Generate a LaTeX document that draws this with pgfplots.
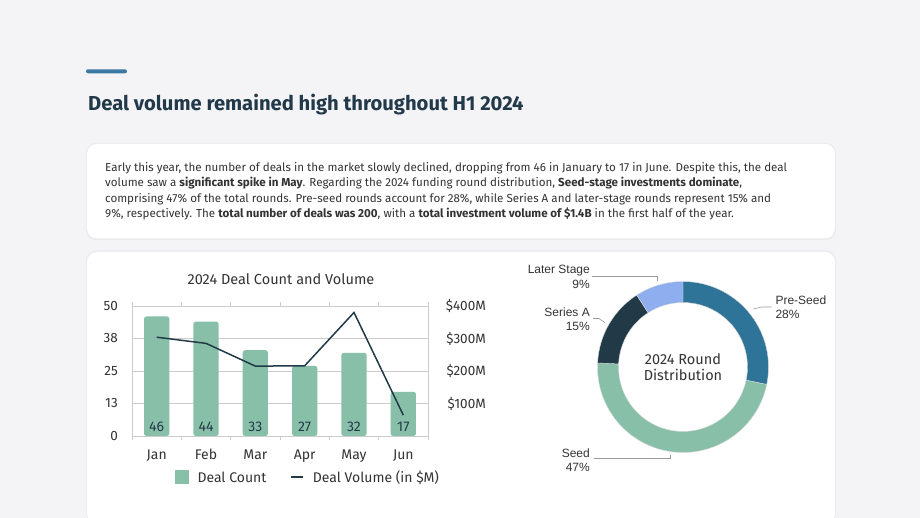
\documentclass[border=0pt]{standalone}
\usepackage{pgfplots}
\pgfplotsset{compat=1.18}
\usepackage{pgfplotstable}
\usepackage{fontspec}
\setmainfont{Fira Sans}
\newfontfamily\labelfont{Liberation Sans}

\definecolor{pagebg}{HTML}{F4F4F6}
\definecolor{accent}{HTML}{3B78A3}
\definecolor{titleink}{HTML}{22394A}
\definecolor{bodyink}{HTML}{333333}
\definecolor{barfill}{HTML}{88BFA8}
\definecolor{lineink}{HTML}{223A48}
\definecolor{gridcol}{HTML}{CCCCCC}
\definecolor{preseed}{HTML}{2E7398}
\definecolor{seriesa}{HTML}{223A48}
\definecolor{laterstage}{HTML}{8EAEF0}
\definecolor{leader}{HTML}{9A9A9A}

% monthly deal count and volume (in $M)
\pgfplotstableread{
idx month count volume
0 Jan 46 304
1 Feb 44 285
2 Mar 33 215
3 Apr 27 216
4 May 32 380
5 Jun 17 64
}\dealdata

\newcommand{\fs}[1]{\fontsize{#1bp}{1.2\dimexpr #1bp\relax}\selectfont}

\begin{document}
\begin{tikzpicture}[x=1bp,y=1bp]
\useasboundingbox (0,0) rectangle (920,518);
\fill[pagebg] (0,0) rectangle (920,518);

% heading
\fill[accent, rounded corners=2bp] (86,444.7) rectangle (127,448.7);
\node[anchor=base west, inner sep=0, text=titleink] at (88,407.3)
  {\fs{20.2}\bfseries Deal volume remained high throughout H1 2024};

% summary card
\fill[black, opacity=0.035, rounded corners=10bp] (86,278) rectangle (836,375);
\fill[white, rounded corners=10bp] (87,279.5) rectangle (835,374);
\begin{scope}[every node/.style={anchor=base west, inner sep=0, text=bodyink}]
\node at (105,346.5) {\fs{11.6}Early this year, the number of deals in the market slowly declined, dropping from 46 in January to 17 in June. Despite this, the deal};
\node at (105,331) {\fs{11.6}volume saw a \textbf{significant spike in May}. Regarding the 2024 funding round distribution, \textbf{Seed-stage investments dominate},};
\node at (105,315.5) {\fs{11.6}comprising 47\% of the total rounds. Pre-seed rounds account for 28\%, while Series A and later-stage rounds represent 15\% and};
\node at (105,300) {\fs{11.6}9\%, respectively. The \textbf{total number of deals was 200}, with a \textbf{total investment volume of \$1.4B} in the first half of the year.};
\end{scope}

% chart card
\fill[black, opacity=0.035, rounded corners=10bp] (86,-5) rectangle (836,267.5);
\fill[white, rounded corners=10bp] (87,-5) rectangle (835,266);

% bar + line chart
\node[anchor=base, inner sep=0, text=bodyink] at (281,233) {\fs{14.5}2024 Deal Count and Volume};

\begin{axis}[
  at={(132bp,82bp)}, anchor=south west, scale only axis,
  width=296bp, height=130bp,
  xmin=-0.5, xmax=5.5, ymin=0, ymax=50,
  xtick={0,...,5}, xticklabels={Jan,Feb,Mar,Apr,May,Jun},
  ytick={0,12.5,25,37.5,50}, yticklabels={0,13,25,38,50},
  /pgf/number format/assume math mode=true,
  ymajorgrids, grid style={draw=gridcol, line width=0.8bp},
  axis line style={draw=gridcol, line width=0.8bp},
  xtick style={draw=none}, ytick style={draw=none},
  extra x ticks={-0.5,0.5,1.5,2.5,3.5,4.5,5.5}, extra x tick labels={},
  extra x tick style={xmajorgrids=false, tick align=outside, major tick length=4bp,
    xtick style={draw=gridcol, line width=0.8bp}},
  xticklabel style={anchor=base, inner sep=0, yshift=-23.3bp, text=bodyink, font=\fs{14}},
  yticklabel style={anchor=east, inner sep=0, xshift=-14bp, text=bodyink, font=\fs{13.5}},
]
\addplot[ybar, bar width=25.3bp, fill=barfill, draw=none, rounded corners=2.5bp]
  table[x=idx, y=count] {\dealdata};
\addplot[draw=none, mark=none, nodes near coords, point meta=\thisrow{count},
  nodes near coords style={anchor=base, inner sep=0, yshift=4.3bp, text=lineink, font=\fs{14}}]
  table[x=idx, y expr=0] {\dealdata};
\end{axis}

\begin{axis}[
  at={(132bp,82bp)}, anchor=south west, scale only axis,
  width=296bp, height=130bp,
  xmin=-0.5, xmax=5.5, ymin=0, ymax=400,
  axis x line=none, axis y line*=right,
  y axis line style={draw=none}, ytick style={draw=none},
  ytick={100,200,300,400},
  yticklabels={\$100M,\$200M,\$300M,\$400M},
  yticklabel style={anchor=east, inner sep=0, xshift=58bp, text=bodyink, font=\fs{13.5}},
]
\addplot[lineink, line width=1.5bp, mark=none]
  table[x=idx, y=volume] {\dealdata};
\end{axis}

% legend
\fill[barfill] (175,34) rectangle (189.3,48);
\node[anchor=base west, inner sep=0, text=bodyink] at (197.3,35.3) {\fs{14}Deal Count};
\draw[lineink, line width=1.6bp] (290.7,40.7) -- (303.3,40.7);
\node[anchor=base west, inner sep=0, text=bodyink] at (312.7,35.3) {\fs{14}Deal Volume (in \$M)};

% round distribution donut (shares in percent, clockwise from the top)
\coordinate (c) at (683,151);
\foreach \share/\col [remember=\stop as \start (initially 90)] in
    {28/preseed, 47/barfill, 15/seriesa, 9/laterstage} {
  \pgfmathsetmacro\stop{\start - \share/99*360}
  \fill[\col, draw=white!70!gray, line width=0.4bp]
    ([shift={(\start:85.5)}]c) arc[start angle=\start, end angle=\stop, radius=85.5]
    -- ([shift={(\stop:64.5)}]c) arc[start angle=\stop, end angle=\start, radius=64.5] -- cycle;
}
\node[align=center, inner sep=0, text=bodyink, anchor=base] at (683,153.7) {\fs{14.5}2024 Round};
\node[align=center, inner sep=0, text=bodyink, anchor=base] at (683,137) {\fs{14.5}Distribution};

% donut labels and leader lines
\begin{scope}[leader/.style={draw=leader, line width=0.6bp}]
\draw[leader] (592,241.3) -- (657,241.3) -- (657,237);
\draw[leader] (593,199.5) -- (599,199.5) -- (605,195.3);
\draw[leader] (753.3,209) -- (761.7,211) -- (771.7,211);
\draw[leader] (594,59.7) -- (670.7,59.7) -- (670.7,63);
\end{scope}
\begin{scope}[every node/.style={inner sep=0, text=bodyink, font=\labelfont\fs{12}}]
\node[anchor=base east] at (590,244) {Later Stage};
\node[anchor=base east] at (590,229.7) {9\%};
\node[anchor=base east] at (590,201.3) {Series A};
\node[anchor=base east] at (590,187) {15\%};
\node[anchor=base east] at (590,60.3) {Seed};
\node[anchor=base east] at (590,46.3) {47\%};
\node[anchor=base west] at (775.3,213.7) {Pre-Seed};
\node[anchor=base west] at (775.3,199) {28\%};
\end{scope}
\end{tikzpicture}
\end{document}
